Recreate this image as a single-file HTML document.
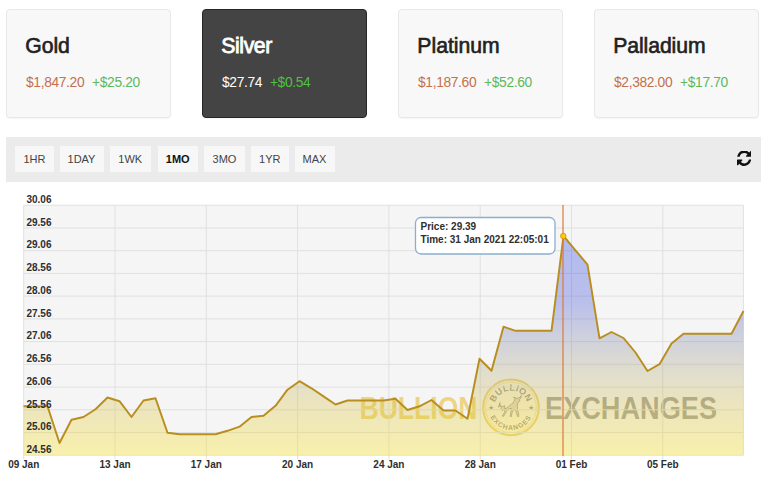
<!DOCTYPE html>
<html><head><meta charset="utf-8"><title>Metals</title>
<style>
html,body{margin:0;padding:0;background:#fff;}
body{width:768px;height:479px;position:relative;overflow:hidden;font-family:"Liberation Sans",sans-serif;}
.card{position:absolute;top:9px;width:163px;height:107px;border:1px solid #e8e8e8;border-radius:4px;background:#f8f8f8;box-shadow:0 1px 1px rgba(0,0,0,0.04);}
.card.act{background:#444;border-color:#262626;}
.card .t{position:absolute;left:18.3px;top:24.2px;font-size:21.2px;font-weight:normal;-webkit-text-stroke:0.62px #222;color:#222;line-height:24px;white-space:nowrap;}
.card.act .t{color:#fff;-webkit-text-stroke:0.8px #fff;}
.card .p{position:absolute;left:19px;top:64.5px;font-size:13.8px;line-height:16px;white-space:nowrap;letter-spacing:-0.35px;}
.pr{color:#c4704d;}
.card.act .pr{color:#fff;}
.chg{color:#5cb85c;margin-left:7.8px;}
.card.act .chg{color:#4fc13f;}
.bar{position:absolute;left:6px;top:137px;width:755px;height:45px;background:#ebebeb;}
.btn{position:absolute;top:9px;height:26px;line-height:26px;background:#f7f7f7;font-size:11px;color:#444;text-align:center;}
.btn.on{font-weight:bold;color:#111;}
svg text{font-family:"Liberation Sans",sans-serif;}
</style></head><body>
<div class="card" style="left:6px"><div class="t" style="letter-spacing:-0.05px">Gold</div><div class="p"><span class="pr">$1,847.20</span><span class="chg">+$25.20</span></div></div>
<div class="card act" style="left:202px"><div class="t" style="letter-spacing:-0.4px">Silver</div><div class="p"><span class="pr">$27.74</span><span class="chg">+$0.54</span></div></div>
<div class="card" style="left:398px"><div class="t" style="letter-spacing:0.0px">Platinum</div><div class="p"><span class="pr">$1,187.60</span><span class="chg">+$52.60</span></div></div>
<div class="card" style="left:594px"><div class="t" style="letter-spacing:-0.1px">Palladium</div><div class="p"><span class="pr">$2,382.00</span><span class="chg">+$17.70</span></div></div>

<div class="bar">
<div class="btn" style="left:9px;width:39px">1HR</div>
<div class="btn" style="left:53.5px;width:44px">1DAY</div>
<div class="btn" style="left:103.5px;width:41.5px">1WK</div>
<div class="btn on" style="left:152px;width:39.5px">1MO</div>
<div class="btn" style="left:198px;width:41px">3MO</div>
<div class="btn" style="left:245px;width:37.5px">1YR</div>
<div class="btn" style="left:288.5px;width:40px">MAX</div>
<svg style="position:absolute;left:731.1px;top:13.7px" width="14.4" height="15" viewBox="128 192 1536 1472" preserveAspectRatio="none"><path fill="#111" d="M1639 1056q0 5-1 7-64 268-268 434.500t-478 166.500q-146 0-282.500-55t-243.500-157l-129 129q-19 19-45 19t-45-19-19-45v-448q0-26 19-45t45-19h448q26 0 45 19t19 45-19 45l-137 137q71 66 161 102t187 36q134 0 250-65t186-179q11-17 53-117 8-23 30-23h192q13 0 22.500 9.500t9.500 22.500zm25-800v448q0 26-19 45t-45 19h-448q-26 0-45-19t-19-45 19-45l138-138q-148-137-349-137-134 0-250 65t-186 179q-11 17-53 117-8 23-30 23h-199q-13 0-22.500-9.500t-9.500-22.500v-7q65-268 270-434.500t480-166.500q146 0 284 55.500t245 156.500l130-129q19-19 45-19t45 19 19 45z"/></svg>
</div>
<svg style="position:absolute;left:0;top:0" width="768" height="479" viewBox="0 0 768 479">
<defs>
<linearGradient id="fg" gradientUnits="userSpaceOnUse" x1="0" y1="236" x2="0" y2="455">
<stop offset="0" stop-color="rgb(20,50,230)" stop-opacity="0.30"/>
<stop offset="0.3" stop-color="rgb(48,66,212)" stop-opacity="0.30"/>
<stop offset="0.47" stop-color="rgb(120,126,162)" stop-opacity="0.30"/>
<stop offset="0.63" stop-color="rgb(178,168,112)" stop-opacity="0.30"/>
<stop offset="0.75" stop-color="rgb(210,186,66)" stop-opacity="0.30"/>
<stop offset="1" stop-color="rgb(255,228,0)" stop-opacity="0.30"/>
</linearGradient>
<path id="arcT" d="M494.200,407.400 A16.800,16.800 0 0 1 527.800,407.400"/>
<path id="arcB" d="M488.400,407.400 A22.600,22.600 0 0 0 533.600,407.400"/>
</defs>
<rect x="23.7" y="205.2" width="719.6999999999999" height="250.0" fill="#f5f5f5"/>
<!-- watermark -->
<g id="wm">
<text x="359.500" y="419" font-size="30.700" font-weight="bold" fill="#e6bc2c" fill-opacity="0.56" textLength="118" lengthAdjust="spacingAndGlyphs">BULLION</text>
<text x="545" y="419.300" font-size="30.700" font-weight="bold" fill="#55554a" fill-opacity="0.50" textLength="172" lengthAdjust="spacingAndGlyphs">EXCHANGES</text>
<circle cx="511" cy="407.400" r="27.800" fill="#fbf3c8" fill-opacity="0.6" stroke="#e0b632" stroke-opacity="0.58" stroke-width="2"/>
<circle cx="511" cy="407.400" r="25.300" fill="none" stroke="#dcb233" stroke-opacity="0.35" stroke-width="0.800"/>
<text font-size="9" font-weight="bold" fill="#6a6455" fill-opacity="0.62" letter-spacing="0.350"><textPath href="#arcT" startOffset="50%" text-anchor="middle">BULLION</textPath></text>
<text font-size="6.800" font-weight="bold" fill="#6a6455" fill-opacity="0.62" letter-spacing="0.900"><textPath href="#arcB" startOffset="50%" text-anchor="middle">EXCHANGES</textPath></text>
<text x="491" y="410.300" font-size="7" fill="#6a6455" fill-opacity="0.6" text-anchor="middle">★</text>
<text x="531" y="410.300" font-size="7" fill="#6a6455" fill-opacity="0.6" text-anchor="middle">★</text>
<g transform="translate(511,407.400)" fill="#6a6455" fill-opacity="0.18" stroke="#6a6455" stroke-opacity="0.55" stroke-width="0.800" stroke-linejoin="round" stroke-linecap="round">
<path d="M-12.500,-0.500 q0.500,-2 2,-1 q1,1 0.500,3 q0,2 2.500,1 l4,-2.500 q3,-2.500 5.500,-4.500 q1.500,-2 2,-4 l-1.500,-1.800 q1.800,0.300 2.800,1.200 l2.500,-0.400 q1.800,-0.600 2.300,-2.300 q0.600,2.600 -1.500,3.700 l0.300,1.800 l-1.600,1.200 l-1,2.800 q0.500,2.500 0.200,4.500 l1,3.500 l0.300,3.300 l-1.300,0 l-1.800,-6 l-2.200,-1 l-1.500,3.500 l-0.500,3.500 l-1.300,0 l0.500,-4 l0.800,-4 q-2,0.300 -3.800,1 l-2,3.500 l-2.300,3.500 l-1.200,-0.300 l2.200,-3.700 l0.800,-3.800 q-1,-1.500 -0.500,-3 q-2.500,1.800 -4.200,0.300 q-1,-1.200 -0.500,-3 z"/>
</g>
</g>
<g stroke="#e0e0e0" stroke-width="1"><line x1="23.7" y1="205.2" x2="743.4" y2="205.2"/><line x1="23.7" y1="227.93" x2="743.4" y2="227.93"/><line x1="23.7" y1="250.66" x2="743.4" y2="250.66"/><line x1="23.7" y1="273.39" x2="743.4" y2="273.39"/><line x1="23.7" y1="296.12" x2="743.4" y2="296.12"/><line x1="23.7" y1="318.85" x2="743.4" y2="318.85"/><line x1="23.7" y1="341.58" x2="743.4" y2="341.58"/><line x1="23.7" y1="364.31" x2="743.4" y2="364.31"/><line x1="23.7" y1="387.04" x2="743.4" y2="387.04"/><line x1="23.7" y1="409.77" x2="743.4" y2="409.77"/><line x1="23.7" y1="432.5" x2="743.4" y2="432.5"/><line x1="23.7" y1="455.23" x2="743.4" y2="455.23"/><line x1="23.7" y1="205.2" x2="23.7" y2="459.2"/><line x1="115.0" y1="205.2" x2="115.0" y2="459.2"/><line x1="206.3" y1="205.2" x2="206.3" y2="459.2"/><line x1="297.6" y1="205.2" x2="297.6" y2="459.2"/><line x1="388.9" y1="205.2" x2="388.9" y2="459.2"/><line x1="480.2" y1="205.2" x2="480.2" y2="459.2"/><line x1="571.5" y1="205.2" x2="571.5" y2="459.2"/><line x1="662.8" y1="205.2" x2="662.8" y2="459.2"/><line x1="743.4" y1="205.2" x2="743.4" y2="455.2"/></g>
<path d="M23.7,455.2 L23.5,406.3 L35.5,406.3 L47.5,406.2 L59.5,443.0 L71.5,419.7 L83.5,417.0 L95.5,409.2 L107.5,397.5 L119.5,401.2 L131.5,417.0 L143.5,400.5 L155.5,398.3 L167.5,432.8 L179.5,434.3 L191.5,434.3 L203.5,434.3 L215.5,434.3 L227.5,430.8 L239.5,426.7 L251.5,417.0 L263.5,415.8 L275.5,405.8 L287.5,389.7 L299.5,381.2 L311.5,388.3 L323.5,396.4 L335.5,404.5 L347.5,400.5 L359.5,400.5 L371.5,400.5 L383.5,400.5 L395.5,398.7 L407.5,410.0 L419.5,406.3 L431.5,400.0 L443.5,410.5 L455.5,410.5 L467.5,418.7 L479.5,358.7 L491.5,370.8 L503.5,326.7 L515.5,330.8 L527.5,330.8 L539.5,330.8 L551.5,330.8 L563.5,236.0 L575.5,250.3 L587.5,264.7 L599.5,338.3 L611.5,332.0 L623.5,338.0 L635.5,352.5 L647.5,371.0 L659.5,364.2 L671.5,343.5 L683.5,333.8 L695.5,333.8 L707.5,333.8 L719.5,333.8 L731.5,333.8 L743.5,311.0 L743.5,455.2 Z" fill="url(#fg)"/>
<polyline points="23.5,406.3 35.5,406.3 47.5,406.2 59.5,443.0 71.5,419.7 83.5,417.0 95.5,409.2 107.5,397.5 119.5,401.2 131.5,417.0 143.5,400.5 155.5,398.3 167.5,432.8 179.5,434.3 191.5,434.3 203.5,434.3 215.5,434.3 227.5,430.8 239.5,426.7 251.5,417.0 263.5,415.8 275.5,405.8 287.5,389.7 299.5,381.2 311.5,388.3 323.5,396.4 335.5,404.5 347.5,400.5 359.5,400.5 371.5,400.5 383.5,400.5 395.5,398.7 407.5,410.0 419.5,406.3 431.5,400.0 443.5,410.5 455.5,410.5 467.5,418.7 479.5,358.7 491.5,370.8 503.5,326.7 515.5,330.8 527.5,330.8 539.5,330.8 551.5,330.8 563.5,236.0 575.5,250.3 587.5,264.7 599.5,338.3 611.5,332.0 623.5,338.0 635.5,352.5 647.5,371.0 659.5,364.2 671.5,343.5 683.5,333.8 695.5,333.8 707.5,333.8 719.5,333.8 731.5,333.8 743.5,311.0" fill="none" stroke="#b88e1f" stroke-width="1.950" stroke-linejoin="round"/>
<line x1="563" y1="205" x2="563" y2="456" stroke="#d97a3c" stroke-width="1.200"/>
<circle cx="563.300" cy="236" r="2.700" fill="#ffcc00" stroke="#d9951e" stroke-width="1"/>
<g font-size="10" font-weight="bold" fill="#2e2e2e"><text x="51.5" y="202.9" text-anchor="end">30.06</text><text x="51.5" y="225.6" text-anchor="end">29.56</text><text x="51.5" y="248.4" text-anchor="end">29.06</text><text x="51.5" y="271.1" text-anchor="end">28.56</text><text x="51.5" y="293.8" text-anchor="end">28.06</text><text x="51.5" y="316.6" text-anchor="end">27.56</text><text x="51.5" y="339.3" text-anchor="end">27.06</text><text x="51.5" y="362.0" text-anchor="end">26.56</text><text x="51.5" y="384.7" text-anchor="end">26.06</text><text x="51.5" y="407.5" text-anchor="end">25.56</text><text x="51.5" y="430.2" text-anchor="end">25.06</text><text x="51.5" y="452.9" text-anchor="end">24.56</text><text x="23.7" y="467.5" text-anchor="middle">09 Jan</text><text x="115.0" y="467.5" text-anchor="middle">13 Jan</text><text x="206.3" y="467.5" text-anchor="middle">17 Jan</text><text x="297.6" y="467.5" text-anchor="middle">20 Jan</text><text x="388.9" y="467.5" text-anchor="middle">24 Jan</text><text x="480.2" y="467.5" text-anchor="middle">28 Jan</text><text x="571.5" y="467.5" text-anchor="middle">01 Feb</text><text x="662.8" y="467.5" text-anchor="middle">05 Feb</text></g>
<rect x="415.500" y="217.500" width="139.500" height="36.500" rx="5.500" ry="5.500" fill="#fff" stroke="#8aaed0" stroke-width="1.300"/>
<g font-size="10" font-weight="bold" fill="#2e2e2e"><text x="420.500" y="229.600">Price: 29.39</text><text x="420.500" y="243">Time: 31 Jan 2021 22:05:01</text></g>
</svg>
</body></html>
